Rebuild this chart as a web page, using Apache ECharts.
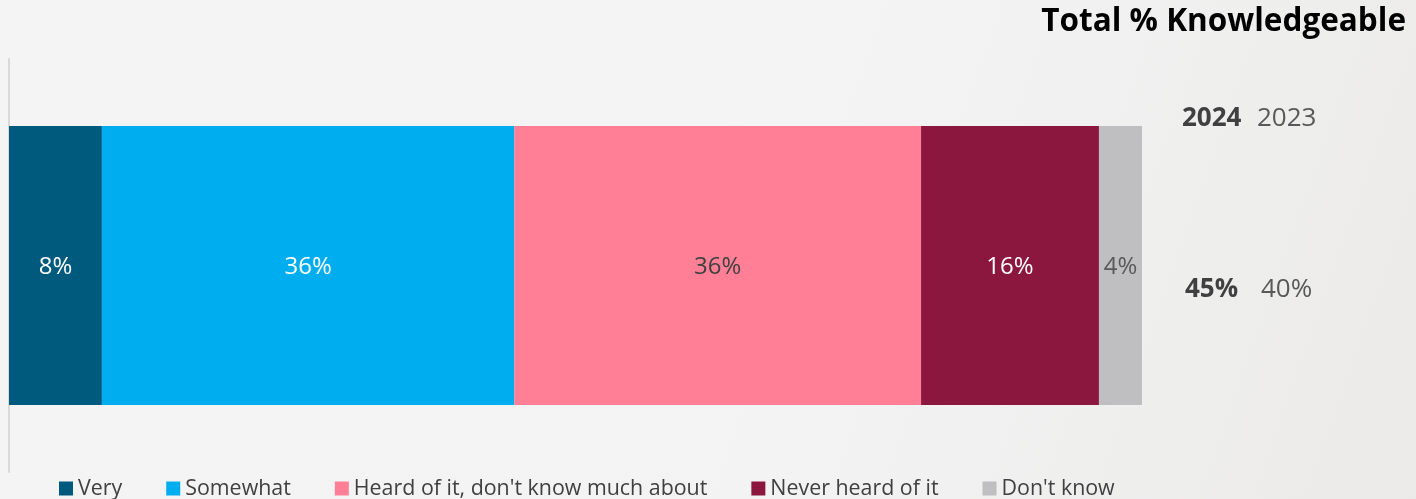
<!DOCTYPE html>
<html>
<head>
<meta charset="utf-8">
<script src="https://cdn.jsdelivr.net/npm/echarts@6/dist/echarts.min.js"></script>
<style>
html,body{margin:0;padding:0;background:#f4f4f4;}
#chart{width:1416px;height:499px;}
</style>
</head>
<body>
<div id="chart"></div>
<script>
// ---- data ----
const categories = ['2024'];
const seriesNames = ['Very', 'Somewhat', "Heard of it, don't know much about", 'Never heard of it', "Don't know"];
const veryValues = [8.2];
const somewhatValues = [36.4];
const heardValues = [35.9];
const neverValues = [15.7];
const dontKnowValues = [3.8];
const summaryYears = ['2024', '2023'];
const summaryKnowledgeable = [45, 40];
const titleText = 'Total % Knowledgeable';

// ---- styles ----
const colors = ['#005a7d', '#00aeef', '#ff8096', '#8b173f', '#bfbfc1'];
const labelColors = ['#ffffff', '#ffffff', '#404040', '#ffffff', '#595959'];
const FONT = '"Open Sans", "Noto Sans", sans-serif';

const allValues = [veryValues, somewhatValues, heardValues, neverValues, dontKnowValues];
const total = allValues.reduce((s, a) => s + a[0], 0);

const chart = echarts.init(document.getElementById('chart'), null, {renderer: 'canvas'});

const series = seriesNames.map((name, i) => ({
  name: name,
  type: 'bar',
  stack: 'total',
  data: allValues[i],
  barWidth: 279,
  itemStyle: {color: colors[i]},
  label: {
    show: true,
    position: 'inside',
    offset: [0, 2],
    formatter: p => Math.round(p.value) + '%',
    color: labelColors[i],
    fontSize: 24,
    fontFamily: FONT
  },
  emphasis: {disabled: true}
}));

const option = {
  backgroundColor: {
    type: 'linear', x: 0, y: 0, x2: 1, y2: 1,
    colorStops: [{offset: 0, color: '#f4f4f4'}, {offset: 0.6, color: '#f3f3f3'}, {offset: 1, color: '#ebeae9'}]
  },
  animation: false,
  title: {
    text: titleText,
    right: 10,
    top: 6,
    padding: 0,
    textStyle: {fontSize: 31.5, fontWeight: 'bold', color: '#000000', fontFamily: FONT}
  },
  legend: {
    data: seriesNames,
    left: 59,
    top: 478,
    padding: 0,
    itemWidth: 14,
    itemHeight: 14,
    itemGap: 44,
    icon: 'rect',
    textStyle: {fontSize: 21.4, color: '#404040', fontFamily: FONT},
    selectedMode: false
  },
  grid: {left: 9, right: 274, top: 59, bottom: 27, containLabel: false},
  xAxis: {
    type: 'value', min: 0, max: total, show: false
  },
  yAxis: {
    type: 'category',
    data: categories,
    axisLine: {show: true, lineStyle: {color: '#d9d9d9', width: 2}},
    axisTick: {show: false},
    axisLabel: {show: false}
  },
  series: series,
  graphic: [
    {type: 'text', left: 1182, top: 106, style: {text: summaryYears[0], font: 'bold 26px ' + FONT, fill: '#404040'}},
    {type: 'text', left: 1257, top: 106, style: {text: summaryYears[1], font: '26px ' + FONT, fill: '#595959'}},
    {type: 'text', left: 1185, top: 277, style: {text: summaryKnowledgeable[0] + '%', font: 'bold 26px ' + FONT, fill: '#404040'}},
    {type: 'text', left: 1261, top: 277, style: {text: summaryKnowledgeable[1] + '%', font: '26px ' + FONT, fill: '#595959'}}
  ]
};
chart.setOption(option);
</script>
</body>
</html>
